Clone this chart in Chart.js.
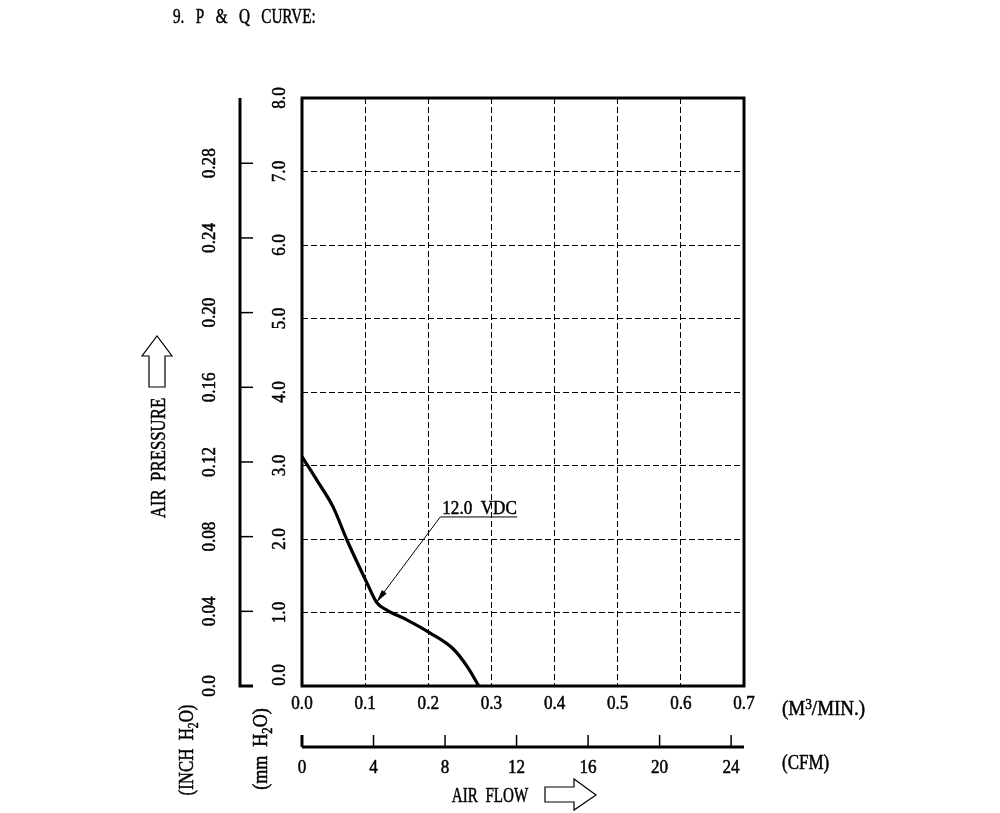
<!DOCTYPE html>
<html>
<head>
<meta charset="utf-8">
<script src="https://cdn.jsdelivr.net/npm/chart.js@4.4.1/dist/chart.umd.min.js"></script>
<style>
  html, body { margin: 0; padding: 0; background: #fff; }
  canvas { display: block; }
</style>
</head>
<body>
<canvas id="pq" width="1000" height="813"></canvas>
<script>
// P & Q curve
const airFlow  = [0, 0.025, 0.049, 0.071, 0.103, 0.118, 0.135, 0.166, 0.203, 0.240, 0.262, 0.280]; // M3/MIN
const pressure = [3.12, 2.78, 2.44, 1.99, 1.40, 1.14, 1.03, 0.90, 0.72, 0.50, 0.26, 0.0];          // mm H2O

const flowTicks = [0, 0.1, 0.2, 0.3, 0.4, 0.5, 0.6, 0.7];
const cfmTicks  = [0, 4, 8, 12, 16, 20, 24];
const mmTicks   = [0, 1, 2, 3, 4, 5, 6, 7, 8];
const inchTicks = [0, 0.04, 0.08, 0.12, 0.16, 0.20, 0.24, 0.28];

const curveName  = '12.0  VDC';
const curvePoint = 5;            // index of the point the label arrow hits

const CFM_PER_M3MIN = 35.3147;
const MM_PER_INCH = 25.4;

const FONT = '"Liberation Serif", "DejaVu Serif", serif';

// draw a (possibly rotated, horizontally condensed) label made of parts
// parts: [[text, sizeFactor, dy]] ; size in px
function label(ctx, parts, x, y, size, opt) {
  opt = opt || {};
  if (typeof parts === 'string') parts = [[parts, 1, 0]];
  ctx.save();
  ctx.translate(x, y);
  if (opt.rot) ctx.rotate(-Math.PI / 2);
  ctx.scale(opt.cond || 1, 1);
  ctx.textBaseline = 'alphabetic';
  ctx.textAlign = 'left';
  ctx.lineWidth = 0.5;
  ctx.lineJoin = 'round';
  let total = 0;
  const widths = parts.map(p => {
    ctx.font = Math.round(size * p[1]) + 'px ' + FONT;
    const w = ctx.measureText(p[0]).width;
    total += w;
    return w;
  });
  let cx = opt.align === 'left' ? 0 : opt.align === 'right' ? -total : -total / 2;
  const base = size * 0.34;  // puts caps roughly centred on y
  parts.forEach((p, i) => {
    ctx.font = Math.round(size * p[1]) + 'px ' + FONT;
    ctx.fillText(p[0], cx, base + p[2] * size);
    ctx.strokeText(p[0], cx, base + p[2] * size);   // a touch heavier, like the scan
    cx += widths[i];
  });
  ctx.restore();
}

function fmtInch(v) { return v === 0 ? '0.0' : v.toFixed(2); }

const decor = {
  id: 'decor',
  afterDraw(chart) {
    const { ctx, chartArea: a } = chart;
    const { x, y, xCfm, yInch } = chart.scales;
    ctx.save();
    ctx.strokeStyle = '#000';
    ctx.fillStyle = '#000';
    ctx.lineCap = 'butt';

    // plot frame
    ctx.lineWidth = 3;
    ctx.strokeRect(a.left, a.top, a.right - a.left, a.bottom - a.top);

    // inch H2O axis
    const ix = 240;
    const iTop = yInch.getPixelForValue(yInch.max);
    const iBot = yInch.getPixelForValue(0);
    ctx.lineWidth = 3;
    ctx.beginPath();
    ctx.moveTo(ix, iTop);
    ctx.lineTo(ix, iBot);
    ctx.lineTo(ix + 13, iBot);
    ctx.stroke();
    ctx.lineWidth = 1.5;
    inchTicks.forEach(v => {
      if (v === 0) return;
      const py = yInch.getPixelForValue(v);
      ctx.beginPath();
      ctx.moveTo(ix, py);
      ctx.lineTo(ix + 13, py);
      ctx.stroke();
    });
    inchTicks.forEach(v => {
      label(ctx, fmtInch(v), 209, yInch.getPixelForValue(v), 19, { rot: true, cond: 0.9 });
    });

    // mm H2O tick labels
    mmTicks.forEach(v => {
      let py = y.getPixelForValue(v);
      if (v === 0) py -= 11;
      label(ctx, v.toFixed(1), 279, py, 19, { rot: true, cond: 0.9 });
    });

    // M3/MIN tick labels
    flowTicks.forEach(v => {
      label(ctx, v.toFixed(1), x.getPixelForValue(v), 703, 19, { cond: 0.9 });
    });

    // CFM axis
    const cy = 747;
    ctx.lineWidth = 3;
    ctx.beginPath();
    ctx.moveTo(xCfm.getPixelForValue(0), cy);
    ctx.lineTo(xCfm.getPixelForValue(xCfm.max), cy);
    ctx.stroke();
    cfmTicks.forEach(v => {
      const px = xCfm.getPixelForValue(v);
      ctx.lineWidth = v === 0 ? 3 : 1.5;
      ctx.beginPath();
      ctx.moveTo(px, cy);
      ctx.lineTo(px, cy - 12);
      ctx.stroke();
      label(ctx, String(v), px, 767, 19, { cond: 0.9 });
    });

    // unit labels
    label(ctx, [['(M', 1, 0], ['3', 0.7, -0.3], ['/MIN.)', 1, 0]], 782, 708, 20, { align: 'left', cond: 0.95 });
    label(ctx, '(CFM)', 782, 762, 20, { align: 'left', cond: 0.85 });
    label(ctx, [['(INCH  H', 1, 0], ['2', 0.7, 0.25], ['O)', 1, 0]], 186, 750, 20, { rot: true, cond: 0.84 });
    label(ctx, [['(mm  H', 1, 0], ['2', 0.7, 0.25], ['O)', 1, 0]], 260, 749, 20, { rot: true, cond: 0.9 });

    // axis titles
    label(ctx, 'AIR  PRESSURE', 158, 458, 21, { rot: true, cond: 0.8 });
    label(ctx, 'AIR  FLOW', 490, 795, 21, { cond: 0.72 });
    label(ctx, '9.   P   &   Q   CURVE:', 173, 16, 20, { align: 'left', cond: 0.76 });

    // hollow arrows beside the titles
    ctx.lineWidth = 1.2;
    ctx.beginPath();
    ctx.moveTo(149, 387); ctx.lineTo(149, 356); ctx.lineTo(142, 356); ctx.lineTo(157, 336);
    ctx.lineTo(172, 356); ctx.lineTo(165, 356); ctx.lineTo(165, 387); ctx.closePath();
    ctx.stroke();
    ctx.beginPath();
    ctx.moveTo(545, 787); ctx.lineTo(574, 787); ctx.lineTo(574, 779); ctx.lineTo(596, 795);
    ctx.lineTo(574, 810); ctx.lineTo(574, 802); ctx.lineTo(545, 802); ctx.closePath();
    ctx.stroke();

    // curve label with leader arrow
    const tx = x.getPixelForValue(airFlow[curvePoint]);
    const ty = y.getPixelForValue(pressure[curvePoint]);
    const ex = x.getPixelForValue(0.219), ey = y.getPixelForValue(2.30);
    const endX = x.getPixelForValue(0.341);
    ctx.lineWidth = 1;
    ctx.beginPath();
    ctx.moveTo(endX, ey); ctx.lineTo(ex, ey); ctx.lineTo(tx, ty);
    ctx.stroke();
    const ang = Math.atan2(ty - ey, tx - ex);
    ctx.beginPath();
    ctx.moveTo(tx, ty);
    ctx.lineTo(tx - 13 * Math.cos(ang) + 3 * Math.sin(ang), ty - 13 * Math.sin(ang) - 3 * Math.cos(ang));
    ctx.lineTo(tx - 13 * Math.cos(ang) - 3 * Math.sin(ang), ty - 13 * Math.sin(ang) + 3 * Math.cos(ang));
    ctx.closePath();
    ctx.fill();
    label(ctx, curveName, ex + 2, ey - 9, 18, { align: 'left', cond: 0.95 });

    ctx.restore();
  }
};

const gridColor = edge => c => (c.tick && (c.tick.value <= 0 || c.tick.value >= edge - 1e-9)) ? 'rgba(0,0,0,0)' : '#000';

new Chart(document.getElementById('pq'), {
  type: 'line',
  data: {
    datasets: [{
      label: curveName,
      data: airFlow.map((q, i) => ({ x: q, y: pressure[i] })),
      borderColor: '#000',
      borderWidth: 3.2,
      pointRadius: 0,
      cubicInterpolationMode: 'monotone',
      fill: false
    }]
  },
  options: {
    responsive: false,
    animation: false,
    events: [],
    layout: { padding: { left: 302, top: 98, right: 256, bottom: 127 } },
    plugins: { legend: { display: false }, tooltip: { enabled: false } },
    scales: {
      x: {
        type: 'linear', min: 0, max: 0.7,
        afterBuildTicks: s => { s.ticks = flowTicks.map(v => ({ value: v })); },
        afterFit: s => { s.height = 0; },
        ticks: { display: false },
        grid: { color: gridColor(0.7), lineWidth: 1, drawTicks: false },
        border: { display: false, dash: [6, 3] }
      },
      y: {
        type: 'linear', min: 0, max: 8,
        afterBuildTicks: s => { s.ticks = mmTicks.map(v => ({ value: v })); },
        afterFit: s => { s.width = 0; },
        ticks: { display: false },
        grid: { color: gridColor(8), lineWidth: 1, drawTicks: false },
        border: { display: false, dash: [6, 3] }
      },
      xCfm: {
        type: 'linear', position: 'bottom', display: false,
        min: 0, max: 0.7 * CFM_PER_M3MIN
      },
      yInch: {
        type: 'linear', position: 'left', display: false,
        min: 0, max: 8 / MM_PER_INCH
      }
    }
  },
  plugins: [decor]
});
</script>
</body>
</html>
